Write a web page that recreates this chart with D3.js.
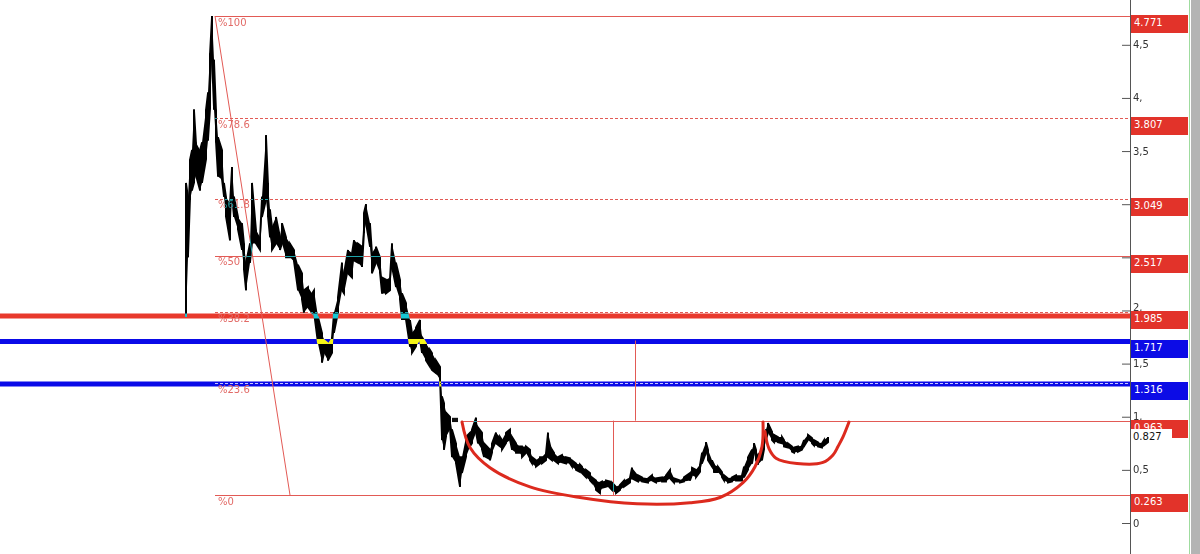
<!DOCTYPE html>
<html><head><meta charset="utf-8">
<script src="https://cdn.jsdelivr.net/npm/d3@7"></script>
<style>html,body{margin:0;padding:0;background:#fff;overflow:hidden}</style>
</head><body><svg id="c" width="1200" height="554"></svg>
<script>
// ---------- DATA ----------
const days = [0,1,2,3,4,5,7,8,10,11,12,13,14,15,16,18,19,20,22,23,24,26,28,29,30,32,33,35,37,38,40,41,42,43,45,47,48,50,52,54,56,58,59,61,63,64,66,68,69,71,73,74,76,78,79,81,83,84,86,88,89,90,92,93,95,97,98,100,102,103,105,107,108,110,112,113,115,117,118,120,122,123,125,127,128,129,130,132,133,135,137,138,140,142,143,145,146,148,149,152,153,155,157,158,160,162,163,165,167,168,170,172,173,175,177,178,180,181,183,184,186,188,190,192,193,195,197,198,200,202,203,205,207,208,210,212,213,215,217,219,222,223,226,228,231,233,235,238,240,242,244,247,249,252,253,255,257,258,260,261,263,264,266,268,269,271,273,275,278,279,281,283,284,285,286,288,289,290,291,293,294,296,298,299,301,303,304,306,308,309,311,313,314,316,318,319,321];
const highs = [3.20,3.07,3.42,3.51,3.89,3.58,3.51,3.58,3.89,4.05,4.42,4.77,4.36,3.89,3.63,3.51,3.20,3.07,3.01,3.35,3.07,2.88,2.82,2.63,2.45,2.63,3.20,2.76,2.69,3.07,3.65,3.20,2.95,2.79,2.88,2.69,2.82,2.69,2.63,2.57,2.43,2.35,2.19,2.22,2.16,2.19,1.94,1.79,1.72,1.69,1.75,1.98,2.13,2.45,2.35,2.57,2.54,2.66,2.63,2.60,2.92,3.00,2.82,2.54,2.60,2.50,2.31,2.29,2.31,2.63,2.45,2.29,2.16,2.07,1.91,1.79,1.84,1.91,1.75,1.69,1.63,1.60,1.53,1.47,1.19,1.13,1.04,1.00,0.88,0.75,0.62,0.62,0.81,0.85,0.88,0.99,0.90,0.85,0.75,0.69,0.75,0.85,0.81,0.78,0.85,0.88,0.81,0.75,0.72,0.72,0.72,0.69,0.62,0.59,0.62,0.62,0.66,0.85,0.69,0.66,0.62,0.64,0.62,0.61,0.59,0.56,0.55,0.53,0.50,0.47,0.43,0.40,0.38,0.39,0.40,0.39,0.38,0.34,0.36,0.40,0.43,0.52,0.45,0.43,0.42,0.45,0.42,0.43,0.45,0.50,0.42,0.40,0.43,0.47,0.52,0.50,0.55,0.66,0.76,0.69,0.59,0.55,0.53,0.48,0.45,0.42,0.43,0.45,0.45,0.53,0.62,0.69,0.75,0.69,0.64,0.69,0.78,0.88,0.94,0.86,0.83,0.81,0.81,0.78,0.75,0.72,0.71,0.72,0.73,0.78,0.83,0.80,0.78,0.76,0.75,0.78,0.81];
const lows = [1.94,2.50,3.04,3.13,3.20,3.27,3.13,3.20,3.42,3.60,3.89,4.36,3.89,3.58,3.26,3.23,3.07,2.88,2.66,3.07,2.88,2.76,2.57,2.38,2.19,2.45,2.63,2.63,2.57,2.88,3.04,2.88,2.69,2.57,2.63,2.57,2.63,2.50,2.50,2.46,2.19,2.10,1.98,2.03,1.98,1.98,1.69,1.51,1.60,1.53,1.60,1.79,1.98,2.19,2.16,2.35,2.31,2.47,2.45,2.41,2.73,2.82,2.60,2.35,2.45,2.35,2.16,2.16,2.19,2.41,2.22,2.10,1.91,1.91,1.66,1.60,1.66,1.72,1.60,1.53,1.47,1.44,1.41,1.35,0.78,0.69,0.81,0.88,0.62,0.56,0.34,0.47,0.62,0.72,0.75,0.85,0.75,0.69,0.62,0.59,0.66,0.75,0.72,0.69,0.75,0.78,0.69,0.66,0.66,0.62,0.66,0.59,0.56,0.53,0.56,0.56,0.59,0.62,0.59,0.59,0.56,0.57,0.56,0.56,0.53,0.50,0.48,0.47,0.43,0.40,0.38,0.31,0.28,0.33,0.34,0.33,0.31,0.28,0.31,0.34,0.38,0.42,0.39,0.39,0.38,0.40,0.38,0.39,0.39,0.42,0.38,0.38,0.39,0.40,0.45,0.43,0.48,0.56,0.66,0.59,0.53,0.48,0.48,0.43,0.40,0.38,0.39,0.40,0.40,0.43,0.50,0.56,0.66,0.59,0.55,0.59,0.69,0.78,0.85,0.78,0.76,0.76,0.75,0.72,0.71,0.67,0.66,0.67,0.69,0.72,0.78,0.75,0.73,0.72,0.71,0.73,0.76];

const fibLabels = ["%100","%78.6","%61.8","%50","%38.2","%23.6","%0"];
const fibValues = [4.771,3.807,3.049,2.517,1.985,1.316,0.263];
const fibDashed = [false,true,true,false,true,true,false];
const fibStartDay = 14.5;
const trendFrom = [14.5, 4.771];
const trendTo = [52, 0.263];

const boxValues = [4.771,3.807,3.049,2.517,1.985,1.717,1.316,0.963,0.263];
const boxKinds  = ["r","r","r","r","r","b","b","r","r"];

const thickValues = [1.948,1.707,1.308];
const thickKinds  = ["r","b","b"];

const necklineDay = 138, necklineValue = 0.963;
const measureDays = [224.5, 213.5];
const measureFrom = [1.717, 0.963];
const measureTo   = [0.963, 0.263];

const bigCupDays = [138,142,152,172,197,225.5,252,267,278.5,284.5,288,288.5];
const bigCupVals = [0.95,0.71,0.52,0.34,0.24,0.18,0.19,0.24,0.38,0.53,0.72,0.95];
const smallCupDays = [289.5,291.5,295,305.5,318.5,323.5,326,328.5,331.5];
const smallCupVals = [0.86,0.70,0.61,0.56,0.57,0.64,0.72,0.81,0.95];

const markerDays = [133,136], markerVals = [0.99,0.95];

const majorTicks = [0,0.5,1,1.5,2,2.5,3,3.5,4,4.5];
const majorLabels = ["0","0,5","1,","1,5","2,","2,5","3,","3,5","4,","4,5"];
const minorTicks = [0.25,0.75,1.25,1.75,2.25,2.75,3.25,3.75,4.25,4.75];
const lastPrice = 0.827, lastLabel = "0.827";

// ---------- SETUP ----------
const W = 1200, H = 554, axisX = 1130;
const svg = d3.select("#c");
const x = d3.scaleLinear().domain([-93, 472]).range([0, axisX]);
const y = d3.scaleLinear().domain([0, 4.771]).range([523, 16]);
const RED = "#e8392c", BLUE = "#0a0ae8", THIN = "#e25a55", LBL = "#e26a66";
const font = "'DejaVu Sans', Verdana, sans-serif";

svg.append("rect").attr("width", W).attr("height", H).attr("fill", "#fff");
// right strip
svg.append("rect").attr("x", 1191).attr("y", 0).attr("width", 9).attr("height", H).attr("fill", "#b4b4b4");
svg.append("line").attr("x1", 1189.5).attr("x2", 1189.5).attr("y1", 0).attr("y2", H).attr("stroke", "#9fdc9f");

// thick lines
svg.selectAll(".thick").data(thickValues).join("line")
  .attr("x1", 0).attr("x2", axisX)
  .attr("y1", d => y(d)).attr("y2", d => y(d))
  .attr("stroke", (d,i) => thickKinds[i] === "r" ? RED : BLUE)
  .attr("stroke-width", 5);

// fib lines
svg.selectAll(".fib").data(fibValues).join("line")
  .attr("x1", x(fibStartDay)).attr("x2", axisX)
  .attr("y1", d => Math.round(y(d)) + 0.5).attr("y2", d => Math.round(y(d)) + 0.5)
  .attr("stroke", (d,i) => fibDashed[i] && (d === 1.316) ? "#c8c8ff" : THIN)
  .attr("stroke-width", 1)
  .attr("stroke-dasharray", (d,i) => fibDashed[i] ? "3,2" : null);

// trend diagonal
svg.append("line")
  .attr("x1", x(trendFrom[0])).attr("y1", y(trendFrom[1]))
  .attr("x2", x(trendTo[0])).attr("y2", y(trendTo[1]))
  .attr("stroke", THIN).attr("stroke-width", 1);

// neckline and measure lines
svg.append("line")
  .attr("x1", x(necklineDay)).attr("x2", axisX)
  .attr("y1", Math.round(y(necklineValue)) + 0.5).attr("y2", Math.round(y(necklineValue)) + 0.5)
  .attr("stroke", THIN).attr("stroke-width", 1);
svg.selectAll(".meas").data(measureDays).join("line")
  .attr("x1", d => Math.round(x(d)) + 0.5).attr("x2", d => Math.round(x(d)) + 0.5)
  .attr("y1", (d,i) => y(measureFrom[i])).attr("y2", (d,i) => y(measureTo[i]))
  .attr("stroke", THIN).attr("stroke-width", 1);

// fib labels
svg.selectAll(".fibl").data(fibValues).join("text")
  .attr("x", x(fibStartDay) + 3).attr("y", d => y(d) + 9.5)
  .attr("fill", LBL).attr("font-family", font).attr("font-size", 10)
  .text((d,i) => fibLabels[i]);

// price series (XOR-like drawing)
const pts = [];
days.forEach((d, i) => {
  if (i % 2 === 0) { pts.push([d, lows[i]]); pts.push([d, highs[i]]); }
  else { pts.push([d, highs[i]]); pts.push([d, lows[i]]); }
});
const priceLine = d3.line().x(p => x(p[0])).y(p => y(p[1]));
const priceArea = d3.area().x(i => x(days[i])).y0(i => y(lows[i])).y1(i => y(highs[i]));
const pg = svg.append("g").style("mix-blend-mode", "difference");
pg.append("path").attr("d", priceArea(d3.range(days.length))).attr("fill", "#fff");
pg.append("path").attr("d", priceLine(pts))
  .attr("fill", "none").attr("stroke", "#fff").attr("stroke-width", 1.8)
  .attr("stroke-linejoin", "miter");
pg.selectAll(".wick").data(days).join("line")
  .attr("x1", d => x(d)).attr("x2", d => x(d))
  .attr("y1", (d,i) => y(highs[i])).attr("y2", (d,i) => y(lows[i]))
  .attr("stroke", "#fff").attr("stroke-width", 2);

// marker
svg.append("rect")
  .attr("x", x(markerDays[0])).attr("y", y(markerVals[0]))
  .attr("width", x(markerDays[1]) - x(markerDays[0]))
  .attr("height", y(markerVals[1]) - y(markerVals[0]))
  .attr("fill", "#111");

// cups
const cupLine = d3.line().curve(d3.curveCatmullRom.alpha(0.5)).x(p => x(p[0])).y(p => y(p[1]));
svg.append("path").attr("d", cupLine(bigCupDays.map((d,i) => [d, bigCupVals[i]])))
  .attr("fill", "none").attr("stroke", "#dc2a1e").attr("stroke-width", 3).attr("stroke-linecap", "round");
svg.append("path").attr("d", cupLine(smallCupDays.map((d,i) => [d, smallCupVals[i]])))
  .attr("fill", "none").attr("stroke", "#dc2a1e").attr("stroke-width", 3).attr("stroke-linecap", "round");

// axis
const axG = svg.append("g").attr("transform", `translate(${axisX},0)`);
axG.call(d3.axisLeft(y).tickValues(minorTicks).tickSize(4).tickFormat(""));
axG.call(d3.axisLeft(y).tickValues(majorTicks).tickSize(8).tickFormat(""));
axG.select(".domain").remove();
axG.selectAll("line").attr("stroke", "#555");
svg.append("line").attr("x1", axisX + 0.5).attr("x2", axisX + 0.5).attr("y1", 0).attr("y2", H)
  .attr("stroke", "#555");

// tick labels: hidden ones sit under price boxes; ones just above a box are nudged up
const boxTop = d => Math.round(y(d)) - 1;
const hidden = v => boxValues.some(b => y(v) > boxTop(b) + 2 && y(v) < boxTop(b) + 22);
const nearTop = v => boxValues.find(b => y(v) >= boxTop(b) - 5 && y(v) <= boxTop(b) + 2);
svg.selectAll(".tl").data(majorTicks.filter(v => !hidden(v))).join("text")
  .attr("x", axisX + 3)
  .attr("y", d => { const b = nearTop(d); return b !== undefined ? boxTop(b) - 0.5 : y(d); })
  .attr("dy", d => nearTop(d) !== undefined ? "0" : "0.35em")
  .attr("font-family", font).attr("font-size", 10).attr("fill", "#333")
  .text(d => majorLabels[majorTicks.indexOf(d)]);

const fmt = d3.format(".3f");
const bx = svg.selectAll(".bx").data(boxValues).join("g")
  .attr("transform", d => `translate(${axisX + 1},${boxTop(d)})`);
bx.append("rect").attr("width", 57).attr("height", 18)
  .attr("fill", (d,i) => boxKinds[i] === "r" ? "#e2332a" : "#0c0ce6");
bx.append("text").attr("x", 3).attr("y", 10.5)
  .attr("font-family", font).attr("font-size", 10).attr("fill", "#fff")
  .text(d => fmt(d));

// last price box
const lp = svg.append("g").attr("transform", `translate(${axisX + 1},${Math.round(y(lastPrice)) - 6})`);
lp.append("rect").attr("width", 41).attr("height", 13).attr("fill", "#fff");
lp.append("text").attr("x", 2).attr("y", 10.5)
  .attr("font-family", font).attr("font-size", 10).attr("fill", "#111")
  .text(lastLabel);
</script></body></html>
